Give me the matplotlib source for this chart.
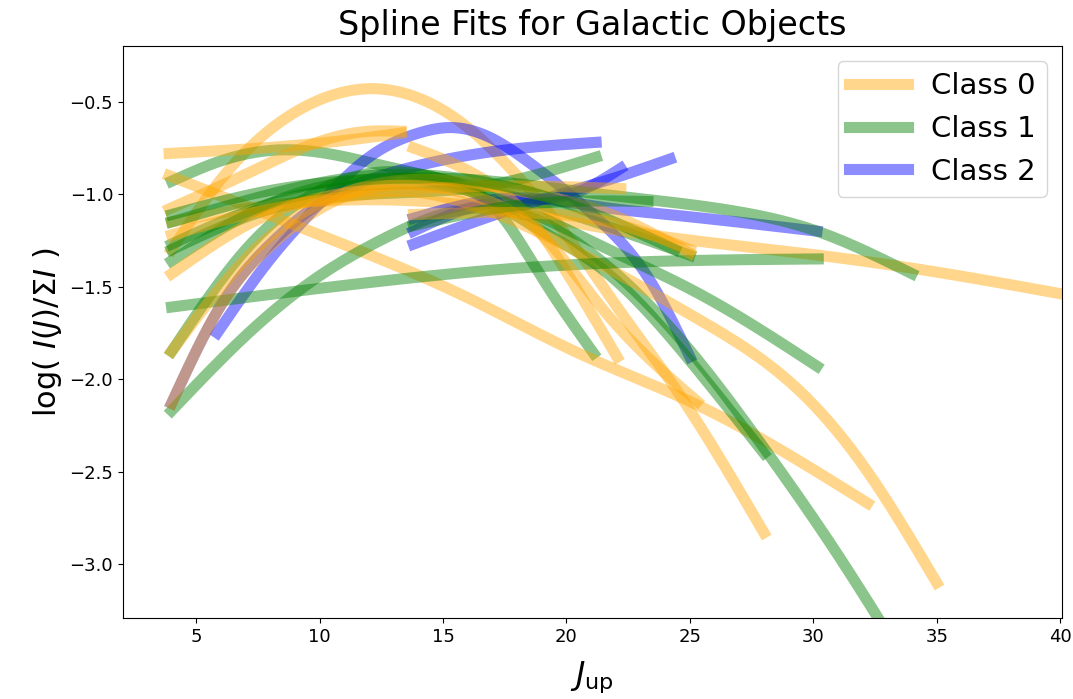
import numpy as np
import matplotlib
matplotlib.use("Agg")
import matplotlib.pyplot as plt

# Knot values (J_up, log I/sum I) of each object's spline, grouped by class
class0_curves = [
    [(4, -1.3), (6, -0.92), (8, -0.65), (10, -0.49), (12, -0.43), (14, -0.48), (16, -0.64),
     (18, -0.9), (20, -1.22), (22, -1.6), (24, -1.97), (26, -2.38), (28, -2.83)],
    [(3.9, -0.78), (8.7, -0.74), (11, -0.71), (13.3, -0.67)],
    [(3.9, -1.08), (7.2, -0.88), (9.9, -0.72), (12, -0.66), (13.3, -0.66)],
    [(3.9, -0.9), (10, -1.22), (16, -1.56), (20.5, -1.86), (25, -2.12), (32.2, -2.67)],
    [(4, -1.15), (8, -1.06), (12, -1.03), (16, -1.06), (21.4, -1.18), (30.2, -1.33),
     (34, -1.40), (40.1, -1.54)],
    [(13.8, -0.75), (17.3, -0.98), (18.5, -1.13), (19.9, -1.40), (22.05, -1.88)],
    [(4, -1.43), (7, -1.17), (10, -1.02), (14, -0.99), (21.4, -1.38), (25.4, -1.68),
     (29.5, -2.07), (32.2, -2.5), (35, -3.1)],
    [(4, -2.13), (6, -1.6), (8, -1.28), (10, -1.08), (13, -0.95), (16, -1.0), (19, -1.22),
     (21.4, -1.61), (25.3, -2.12)],
    [(4, -1.85), (7, -1.35), (10, -1.05), (14, -0.92), (18, -0.98), (22, -1.12), (25, -1.32)],
    [(4, -1.22), (8, -1.08), (12, -1.0), (16, -0.96), (20, -0.96), (22.2, -0.97)],
    [(13.8, -1.11), (18, -1.1), (22, -1.16), (25, -1.3)],
]

class1_curves = [
    [(4, -0.93), (6, -0.82), (8.7, -0.76), (12.7, -0.85), (16, -0.95), (20, -1.1), (25, -1.33)],
    [(4, -1.3), (8, -1.08), (12, -1.0), (16.5, -0.96), (21.2, -0.8)],
    [(4, -1.85), (7, -1.3), (10, -0.98), (12.5, -0.88), (15, -0.92), (17.2, -1.09),
     (19, -1.45), (21.1, -1.86)],
    [(4, -2.17), (7.2, -1.74), (9.9, -1.45), (12.6, -1.24), (16, -1.08), (18, -1.1),
     (21.4, -1.36), (25.1, -1.86), (28.1, -2.39), (31, -2.95), (33.6, -3.5)],
    [(4, -1.36), (8, -1.05), (12, -0.92), (16, -0.98), (19, -1.2), (21.4, -1.4), (25, -1.9),
     (28, -2.4)],
    [(4, -1.27), (8, -1.05), (12, -0.95), (16, -0.98), (21.4, -1.28), (25.4, -1.54),
     (30.15, -1.93)],
    [(4, -1.61), (12.5, -1.47), (18, -1.40), (24.6, -1.36), (30.2, -1.35)],
    [(4, -1.11), (8, -0.98), (12, -0.92), (16, -0.92), (21.4, -1.0), (26.75, -1.09),
     (30.15, -1.2), (34, -1.43)],
    [(13.8, -1.17), (17, -1.08), (20, -1.04), (23.3, -1.04)],
    [(4, -1.15), (8, -1.0), (12, -0.9), (16, -0.92), (20, -1.05), (24.4, -1.3)],
]

class2_curves = [
    [(5.85, -1.75), (8, -1.35), (10, -1.05), (12, -0.8), (14, -0.67), (15.3, -0.64),
     (17, -0.7), (18.6, -0.84), (21.4, -1.15), (23.4, -1.47), (25, -1.88)],
    [(4, -2.13), (6, -1.6), (8, -1.27), (10, -1.05), (13, -0.88), (17, -0.77), (21.2, -0.72)],
    [(13.8, -1.27), (18.5, -1.05), (22, -0.91), (24.2, -0.81)],
    [(13.8, -1.2), (16.5, -1.06), (20.6, -0.98), (22.2, -0.86)],
    [(13.8, -1.13), (18, -1.02), (21.4, -1.07), (24.1, -1.11), (30.15, -1.2)],
]

class_labels = ["Class 0", "Class 1", "Class 2"]
class_colors = ["orange", "green", "blue"]


def natural_spline(knots, n=200):
    """Natural cubic spline through the knots, evaluated on a fine grid."""
    x = np.array([k[0] for k in knots], float)
    y = np.array([k[1] for k in knots], float)
    m = len(x)
    if m < 3:
        xs = np.linspace(x[0], x[-1], n)
        return xs, np.interp(xs, x, y)
    h = np.diff(x)
    A = np.zeros((m, m))
    b = np.zeros(m)
    A[0, 0] = A[-1, -1] = 1.0
    for i in range(1, m - 1):
        A[i, i - 1] = h[i - 1]
        A[i, i] = 2 * (h[i - 1] + h[i])
        A[i, i + 1] = h[i]
        b[i] = 3 * ((y[i + 1] - y[i]) / h[i] - (y[i] - y[i - 1]) / h[i - 1])
    c = np.linalg.solve(A, b)
    bb = (y[1:] - y[:-1]) / h - h * (2 * c[:-1] + c[1:]) / 3
    d = (c[1:] - c[:-1]) / (3 * h)
    xs = np.linspace(x[0], x[-1], n)
    idx = np.clip(np.searchsorted(x, xs, side="right") - 1, 0, m - 2)
    t = xs - x[idx]
    ys = y[idx] + bb[idx] * t + c[idx] * t ** 2 + d[idx] * t ** 3
    return xs, ys


fig = plt.figure(figsize=(10.73, 6.99), dpi=100)
ax = fig.add_axes([0.1146, 0.116, 0.875, 0.818])

groups = [class0_curves, class1_curves, class2_curves]
# interleave the objects so that classes overlap as they were drawn
order = []
longest = max(len(g) for g in groups)
for i in range(longest):
    for ci, g in enumerate(groups):
        if i < len(g):
            order.append((ci, g[i]))

seen = set()
for ci, knots in order:
    xs, ys = natural_spline(knots)
    label = class_labels[ci] if ci not in seen else None
    seen.add(ci)
    ax.plot(xs, ys, color=class_colors[ci], alpha=0.45, lw=8, label=label)

ax.set_xlim(2.03, 40.07)
ax.set_ylim(-3.29, -0.2)
ax.set_xticks([5, 10, 15, 20, 25, 30, 35, 40])
ax.set_yticks([-3.0, -2.5, -2.0, -1.5, -1.0, -0.5])
ax.tick_params(labelsize=13)
ax.set_title("Spline Fits for Galactic Objects", fontsize=24, pad=8)
ax.set_xlabel(r"$J_{\rm up}$", fontsize=23, labelpad=10)
ax.set_ylabel(r"log( $I(J)/\Sigma I$ )", fontsize=22)

handles, labels = ax.get_legend_handles_labels()
order_idx = [labels.index(l) for l in class_labels]
ax.legend([handles[i] for i in order_idx], [labels[i] for i in order_idx],
          loc="upper right", fontsize=21)

fig.savefig("out.png", dpi=100)
